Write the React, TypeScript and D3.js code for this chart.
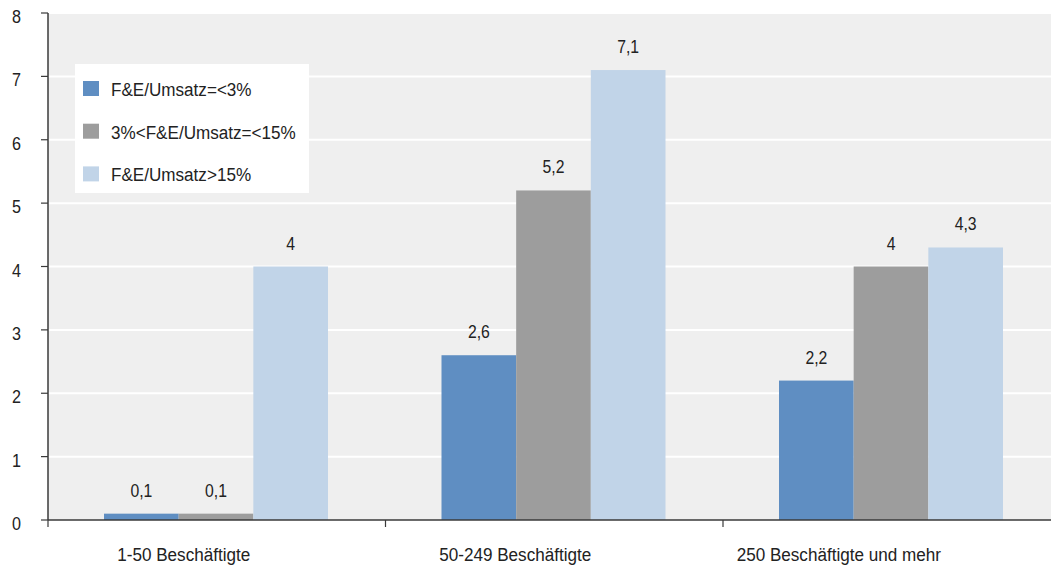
import React from "react";
import * as d3 from "d3";

const categories = ["1-50 Beschäftigte", "50-249 Beschäftigte", "250 Beschäftigte und mehr"];
const seriesNames = ["F&E/Umsatz=<3%", "3%<F&E/Umsatz=<15%", "F&E/Umsatz>15%"];
const seriesLow = [0.1, 2.6, 2.2];
const seriesMid = [0.1, 5.2, 4.0];
const seriesHigh = [4.0, 7.1, 4.3];
const yTicks = [0, 1, 2, 3, 4, 5, 6, 7, 8];
const seriesColors = ["#5f8ec2", "#9d9d9d", "#c1d4e8"];
const labelOffsets = [-33, -39, -53];

const W = 1051;
const H = 569;
const FONT = "'Liberation Sans', Arial, sans-serif";

const fmt = (v: number) => String(v).replace(".", ",");

type TProps = { x: number; y: number; sx: number; size: number; anchor?: string; children: React.ReactNode };
function T({ x, y, sx, size, anchor = "start", children }: TProps) {
  return (
    <text transform={`translate(${x},${y}) scale(${sx},1)`} textAnchor={anchor} fontSize={size} fill="#222">
      {children}
    </text>
  );
}

export default function App() {
  const values = [seriesLow, seriesMid, seriesHigh];
  const left = 48;
  const bandW = 337.5;
  const x0 = d3.scaleBand<string>().domain(categories).range([left, left + bandW * categories.length]).padding(0);
  const x1 = d3.scaleBand<string>().domain(seriesNames).range([56, 56 + 224]).padding(0);
  const y = d3.scaleLinear().domain([0, 8]).range([520, 13]);
  const axisColor = "#3a3a3a";

  return (
    <svg width={W} height={H} style={{ position: "absolute", left: 0, top: 0, display: "block" }} fontFamily={FONT}>
      <rect x={left} y={y(8)} width={W - left} height={y(0) - y(8)} fill="#efefef" />
      {yTicks.filter((t) => t > 0).map((t) => (
        <line key={t} x1={left} x2={W} y1={y(t)} y2={y(t)} stroke="#ffffff" strokeWidth={2} />
      ))}
      {categories.map((c, ci) => (
        <g key={c}>
          {seriesNames.map((s, si) => {
            const v = values[si][ci];
            const bx = (x0(c) as number) + (x1(s) as number);
            const bw = x1.bandwidth();
            return (
              <g key={s}>
                <rect x={bx} y={y(v)} width={bw} height={y(0) - y(v)} fill={seriesColors[si]} />
                <T x={bx + bw / 2} y={y(v) - 17} sx={0.83} size={19} anchor="middle">
                  {fmt(v)}
                </T>
              </g>
            );
          })}
        </g>
      ))}
      {/* y axis */}
      <line x1={left} x2={left} y1={y(8)} y2={y(0)} stroke={axisColor} strokeWidth={1.5} />
      {yTicks.map((t) => (
        <g key={t}>
          <line x1={41} x2={left} y1={y(t)} y2={y(t)} stroke={axisColor} strokeWidth={1.2} />
          <T x={21} y={y(t) + 10} sx={0.85} size={19} anchor="end">
            {t}
          </T>
        </g>
      ))}
      {/* x axis */}
      <line x1={left} x2={W} y1={y(0)} y2={y(0)} stroke={axisColor} strokeWidth={1.5} />
      {categories.map((c) => (
        <line key={c} x1={x0(c) as number} x2={x0(c) as number} y1={y(0)} y2={y(0) + 7} stroke={axisColor} strokeWidth={1.2} />
      ))}
      {categories.map((c, ci) => (
        <T key={c} x={(x0(c) as number) + x0.bandwidth() / 2 + labelOffsets[ci]} y={561} sx={0.9} size={19} anchor="middle">
          {c}
        </T>
      ))}
      {/* legend */}
      <rect x={75} y={64} width={234} height={129} fill="#ffffff" />
      {seriesNames.map((s, si) => (
        <g key={s}>
          <rect x={83} y={81 + si * 42.7} width={16} height={15} fill={seriesColors[si]} />
          <T x={111} y={96 + si * 42.7} sx={0.9} size={19}>
            {s}
          </T>
        </g>
      ))}
    </svg>
  );
}
